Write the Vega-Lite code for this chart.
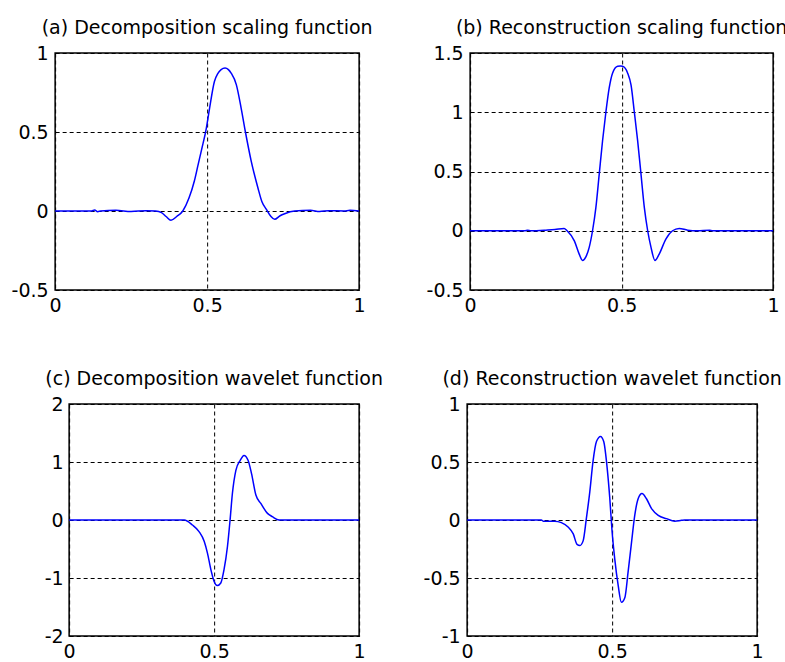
{
  "$schema": "https://vega.github.io/schema/vega-lite/v6.json",
  "background": "white",
  "padding": {"left": 10, "top": 18, "right": 0, "bottom": 0},
  "config": {
    "view": {"stroke": "#000000", "strokeWidth": 1.5},
    "axis": {
      "grid": true, "gridColor": "#000000", "gridDash": [4, 3], "gridWidth": 1, "gridOpacity": 1,
      "ticks": false, "domain": false,
      "labelFont": "DejaVu Sans", "labelFontSize": 19, "labelColor": "#000000",
      "labelFlush": false, "labelOverlap": false,
      "labelExpr": "toString(datum.value)"
    },
    "axisX": {"labelPadding": 6},
    "axisY": {"labelPadding": 7},
    "title": {"font": "DejaVu Sans", "fontSize": 19, "fontWeight": "normal", "color": "#000000", "anchor": "middle", "frame": "group", "offset": 6},
    "line": {"color": "#0000ff", "strokeWidth": 1.5, "interpolate": "monotone"}
  },
  "datasets": {
    "a": [
      {"x": 0, "y": 0}, {"x": 0.12, "y": 0}, {"x": 0.13, "y": 0.006}, {"x": 0.14, "y": -0.004}, {"x": 0.15, "y": 0},
      {"x": 0.2, "y": 0.004}, {"x": 0.25, "y": -0.003}, {"x": 0.3, "y": 0.002}, {"x": 0.33, "y": 0},
      {"x": 0.35, "y": -0.01}, {"x": 0.365, "y": -0.035}, {"x": 0.381, "y": -0.059}, {"x": 0.4, "y": -0.035},
      {"x": 0.42, "y": 0.0}, {"x": 0.44, "y": 0.08}, {"x": 0.458, "y": 0.19}, {"x": 0.47, "y": 0.29},
      {"x": 0.482, "y": 0.39}, {"x": 0.497, "y": 0.52}, {"x": 0.508, "y": 0.65}, {"x": 0.524, "y": 0.82},
      {"x": 0.535, "y": 0.87}, {"x": 0.546, "y": 0.895}, {"x": 0.559, "y": 0.905}, {"x": 0.57, "y": 0.895},
      {"x": 0.579, "y": 0.873}, {"x": 0.596, "y": 0.8}, {"x": 0.612, "y": 0.65}, {"x": 0.626, "y": 0.5},
      {"x": 0.645, "y": 0.316}, {"x": 0.667, "y": 0.147}, {"x": 0.68, "y": 0.06}, {"x": 0.695, "y": 0.01},
      {"x": 0.71, "y": -0.035}, {"x": 0.722, "y": -0.053}, {"x": 0.74, "y": -0.03}, {"x": 0.755, "y": -0.017},
      {"x": 0.788, "y": 0}, {"x": 0.84, "y": 0.004}, {"x": 0.87, "y": -0.003}, {"x": 0.9, "y": 0.002},
      {"x": 0.95, "y": 0}, {"x": 0.97, "y": 0.004}, {"x": 1, "y": 0}
    ],
    "b": [
      {"x": 0, "y": 0}, {"x": 0.18, "y": 0}, {"x": 0.19, "y": 0.005}, {"x": 0.2, "y": 0}, {"x": 0.25, "y": 0.005},
      {"x": 0.28, "y": 0.01}, {"x": 0.31, "y": 0.02}, {"x": 0.32, "y": 0.0}, {"x": 0.344, "y": -0.085},
      {"x": 0.36, "y": -0.197}, {"x": 0.371, "y": -0.25}, {"x": 0.382, "y": -0.22}, {"x": 0.393, "y": -0.14},
      {"x": 0.404, "y": 0}, {"x": 0.415, "y": 0.195}, {"x": 0.426, "y": 0.476}, {"x": 0.437, "y": 0.757},
      {"x": 0.448, "y": 1.0}, {"x": 0.459, "y": 1.205}, {"x": 0.47, "y": 1.33}, {"x": 0.487, "y": 1.388},
      {"x": 0.496, "y": 1.39}, {"x": 0.503, "y": 1.388}, {"x": 0.52, "y": 1.33}, {"x": 0.531, "y": 1.23},
      {"x": 0.542, "y": 1.0}, {"x": 0.553, "y": 0.757}, {"x": 0.564, "y": 0.476}, {"x": 0.575, "y": 0.195},
      {"x": 0.586, "y": 0}, {"x": 0.597, "y": -0.14}, {"x": 0.61, "y": -0.25}, {"x": 0.624, "y": -0.197},
      {"x": 0.646, "y": -0.07}, {"x": 0.668, "y": 0}, {"x": 0.69, "y": 0.02}, {"x": 0.718, "y": 0.005},
      {"x": 0.75, "y": 0}, {"x": 0.79, "y": 0.005}, {"x": 0.8, "y": 0}, {"x": 1, "y": 0}
    ],
    "c": [
      {"x": 0, "y": 0}, {"x": 0.397, "y": 0}, {"x": 0.425, "y": -0.086}, {"x": 0.448, "y": -0.2},
      {"x": 0.466, "y": -0.37}, {"x": 0.477, "y": -0.57}, {"x": 0.489, "y": -0.86}, {"x": 0.5, "y": -1.06},
      {"x": 0.511, "y": -1.13}, {"x": 0.523, "y": -1.086}, {"x": 0.534, "y": -0.86}, {"x": 0.546, "y": -0.457},
      {"x": 0.555, "y": 0}, {"x": 0.563, "y": 0.457}, {"x": 0.575, "y": 0.857}, {"x": 0.59, "y": 1.03},
      {"x": 0.603, "y": 1.114}, {"x": 0.617, "y": 1.03}, {"x": 0.629, "y": 0.8}, {"x": 0.644, "y": 0.43},
      {"x": 0.661, "y": 0.286}, {"x": 0.684, "y": 0.114}, {"x": 0.701, "y": 0.057}, {"x": 0.724, "y": 0},
      {"x": 1, "y": 0}
    ],
    "d": [
      {"x": 0, "y": 0}, {"x": 0.256, "y": 0}, {"x": 0.262, "y": -0.01}, {"x": 0.302, "y": -0.01},
      {"x": 0.325, "y": -0.023}, {"x": 0.348, "y": -0.06}, {"x": 0.366, "y": -0.12}, {"x": 0.379, "y": -0.21},
      {"x": 0.389, "y": -0.22}, {"x": 0.4, "y": -0.18}, {"x": 0.411, "y": 0.01}, {"x": 0.423, "y": 0.243},
      {"x": 0.434, "y": 0.503}, {"x": 0.446, "y": 0.676}, {"x": 0.46, "y": 0.72}, {"x": 0.471, "y": 0.676},
      {"x": 0.483, "y": 0.445}, {"x": 0.492, "y": 0.185}, {"x": 0.5, "y": -0.104}, {"x": 0.509, "y": -0.335},
      {"x": 0.521, "y": -0.566}, {"x": 0.532, "y": -0.71}, {"x": 0.544, "y": -0.668}, {"x": 0.555, "y": -0.45},
      {"x": 0.567, "y": -0.19}, {"x": 0.578, "y": 0.04}, {"x": 0.59, "y": 0.185}, {"x": 0.603, "y": 0.228},
      {"x": 0.618, "y": 0.185}, {"x": 0.636, "y": 0.098}, {"x": 0.659, "y": 0.04}, {"x": 0.687, "y": 0.012},
      {"x": 0.716, "y": -0.01}, {"x": 0.739, "y": -0.003}, {"x": 0.75, "y": 0}, {"x": 1, "y": 0}
    ]
  },
  "spacing": 8,
  "hconcat": [
    {
      "spacing": 53,
      "center": true,
      "vconcat": [
        {
          "title": "(a) Decomposition scaling function",
          "width": 304, "height": 237,
          "data": {"name": "a"},
          "resolve": {"axis": {"y": "independent"}},
          "encoding": {
            "x": {"field": "x", "type": "quantitative", "scale": {"domain": [0, 1], "nice": false, "zero": false}, "axis": {"title": null, "values": [0, 0.5, 1]}}
          },
          "layer": [
            {
              "mark": {"type": "line"},
              "encoding": {
                "y": {"field": "y", "type": "quantitative", "scale": {"domain": [-0.5, 1], "nice": false, "zero": false}, "axis": {"title": null, "values": [-0.5, 0, 0.5, 1], "minExtent": 44, "maxExtent": 44}}
              }
            },
            {
              "mark": {"type": "line", "opacity": 0},
              "encoding": {
                "y": {"field": "y", "type": "quantitative", "scale": {"domain": [-0.5, 1], "nice": false, "zero": false}, "axis": {"title": null, "orient": "right", "labels": false, "grid": false, "minExtent": 54, "maxExtent": 54}}
              }
            }
          ]
        },
        {
          "title": "(c) Decomposition wavelet function",
          "width": 290, "height": 232,
          "data": {"name": "c"},
          "resolve": {"axis": {"y": "independent"}},
          "encoding": {
            "x": {"field": "x", "type": "quantitative", "scale": {"domain": [0, 1], "nice": false, "zero": false}, "axis": {"title": null, "values": [0, 0.5, 1]}}
          },
          "layer": [
            {
              "mark": {"type": "line"},
              "encoding": {
                "y": {"field": "y", "type": "quantitative", "scale": {"domain": [-2, 2], "nice": false, "zero": false}, "axis": {"title": null, "values": [-2, -1, 0, 1, 2], "labelPadding": 6}}
              }
            },
            {
              "mark": {"type": "line", "opacity": 0},
              "encoding": {
                "y": {"field": "y", "type": "quantitative", "scale": {"domain": [-2, 2], "nice": false, "zero": false}, "axis": {"title": null, "orient": "right", "labels": false, "grid": false, "minExtent": 40, "maxExtent": 40}}
              }
            }
          ]
        }
      ]
    },
    {
      "spacing": 53,
      "center": true,
      "vconcat": [
        {
          "title": "(b) Reconstruction scaling function",
          "width": 303, "height": 237,
          "data": {"name": "b"},
          "resolve": {"axis": {"y": "independent"}},
          "encoding": {
            "x": {"field": "x", "type": "quantitative", "scale": {"domain": [0, 1], "nice": false, "zero": false}, "axis": {"title": null, "values": [0, 0.5, 1]}}
          },
          "layer": [
            {
              "mark": {"type": "line"},
              "encoding": {
                "y": {"field": "y", "type": "quantitative", "scale": {"domain": [-0.5, 1.5], "nice": false, "zero": false}, "axis": {"title": null, "values": [-0.5, 0, 0.5, 1, 1.5], "minExtent": 44, "maxExtent": 44}}
              }
            },
            {
              "mark": {"type": "line", "opacity": 0},
              "encoding": {
                "y": {"field": "y", "type": "quantitative", "scale": {"domain": [-0.5, 1.5], "nice": false, "zero": false}, "axis": {"title": null, "orient": "right", "labels": false, "grid": false, "minExtent": 40, "maxExtent": 40}}
              }
            }
          ]
        },
        {
          "title": "(d) Reconstruction wavelet function",
          "width": 290, "height": 232,
          "data": {"name": "d"},
          "resolve": {"axis": {"y": "independent"}},
          "encoding": {
            "x": {"field": "x", "type": "quantitative", "scale": {"domain": [0, 1], "nice": false, "zero": false}, "axis": {"title": null, "values": [0, 0.5, 1]}}
          },
          "layer": [
            {
              "mark": {"type": "line"},
              "encoding": {
                "y": {"field": "y", "type": "quantitative", "scale": {"domain": [-1, 1], "nice": false, "zero": false}, "axis": {"title": null, "values": [-1, -0.5, 0, 0.5, 1], "minExtent": 43, "maxExtent": 43}}
              }
            },
            {
              "mark": {"type": "line", "opacity": 0},
              "encoding": {
                "y": {"field": "y", "type": "quantitative", "scale": {"domain": [-1, 1], "nice": false, "zero": false}, "axis": {"title": null, "orient": "right", "labels": false, "grid": false, "minExtent": 59, "maxExtent": 59}}
              }
            }
          ]
        }
      ]
    }
  ]
}
